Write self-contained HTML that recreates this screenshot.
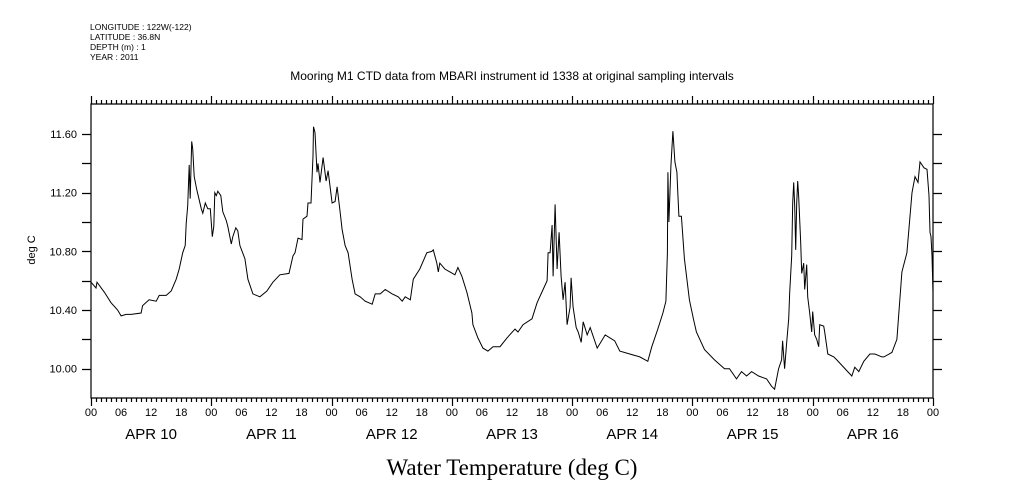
<!DOCTYPE html>
<html><head><meta charset="utf-8"><style>
body{margin:0;background:#fff;}
svg{display:block;font-family:"Liberation Sans",sans-serif;}
</style></head><body>
<svg id="chart" width="1009" height="504" viewBox="0 0 1009 504">
<g font-size="8.5" fill="#000">
<text x="90" y="30">LONGITUDE : 122W(-122)</text>
<text x="90" y="40">LATITUDE : 36.8N</text>
<text x="90" y="50">DEPTH (m) : 1</text>
<text x="90" y="60">YEAR : 2011</text>
</g>
<text x="512" y="80" font-size="12" text-anchor="middle">Mooring M1 CTD data from MBARI instrument id 1338 at original sampling intervals</text>
<text x="0" y="0" font-size="11" text-anchor="middle" transform="translate(35,250) rotate(-90)">deg C</text>
<text x="512" y="475" font-size="23" font-family="Liberation Serif, serif" text-anchor="middle">Water Temperature (deg C)</text>
<g id="axes"></g>
<g id="series"></g>
</svg>
<script>
const hours=[0,1,1.2,2.7,4,5.3,6,7,8,10,10.3,11.6,13,13.6,15,16,17,17.6,18.3,18.8,19,19.3,19.6,19.8,20.1,20.3,20.6,21.1,22,22.3,22.8,23.3,23.8,24.2,24.5,24.7,25,25.3,25.9,26.3,27,27.3,28,28.3,28.9,29.3,
29.7,30.7,31.3,32.3,33.7,35.1,36.3,37.7,39.5,40.3,40.7,41.3,42.1,42.3,43.1,43.3,43.9,44.3,44.4,44.7,45.1,45.3,45.7,46.1,46.3,46.9,47.3,48.1,48.7,49.1,49.7,50.1,50.7,51.3,52.1,52.7,53.7,54.7,56.1,56.7,57.7,58.7,60.1,61.3,62.1,62.7,63.7,64.3,65.6,67,68,68.3,69,69.3,
69.6,70.6,71.6,72.6,73.2,74,75,76,76.2,77.2,78.2,79.2,80.2,81.6,83,84.6,85.2,86.2,88,89,90.2,91,91.2,91.6,92,92.2,92.6,93,93.4,93.8,94.2,94.6,95,95.6,95.8,96.2,96.8,97.2,97.8,98.2,99,99.6,101,102.6,104.5,105.5,107.5,109.5,111.1,111.9,113.1,114.1,114.7,115,115.1,115.3,115.7,116.1,116.5,116.9,117,117.3,
117.8,118.4,119.4,120.2,120.8,122.4,124.4,126.4,127.4,128.8,129.8,130.8,131.8,133.2,134.8,135.8,136.4,137.2,137.8,138,138.4,138.8,139.2,139.4,139.8,140,140.2,140.4,140.6,140.8,141,141.2,141.6,141.8,142.2,142.4,142.8,143,143.4,143.8,144,144.4,144.8,145.2,145.4,146.2,146.4,147,148.2,148.8,151.8,152.4,153.2,154.2,155.4,156.4,157.8,
158.2,159.8,160.8,161.8,162.8,163.8,164.4,165,165.4,166.2,166.8,167.2,167.4,167.6,167.8,168];
const temps=[10.59,10.55,10.59,10.52,10.45,10.40,10.36,10.37,10.37,10.38,10.43,10.47,10.46,10.50,10.50,10.53,10.61,10.68,10.79,10.84,10.99,11.11,11.39,11.16,11.55,11.50,11.31,11.22,11.09,11.06,11.13,11.09,11.09,10.90,10.97,11.20,11.18,11.21,11.18,11.07,11.01,10.97,10.85,10.90,10.96,10.94,
10.84,10.75,10.61,10.51,10.49,10.53,10.59,10.64,10.65,10.77,10.79,10.89,10.88,11.02,11.04,11.13,11.13,11.45,11.65,11.61,11.34,11.40,11.27,11.38,11.44,11.28,11.35,11.13,11.14,11.24,11.07,10.95,10.84,10.79,10.61,10.51,10.49,10.46,10.44,10.51,10.51,10.54,10.51,10.49,10.46,10.49,10.47,10.61,10.68,10.79,10.80,10.81,10.72,10.66,
10.72,10.68,10.66,10.64,10.69,10.63,10.52,10.38,10.30,10.21,10.14,10.12,10.15,10.15,10.21,10.27,10.25,10.30,10.34,10.45,10.54,10.60,10.79,10.79,10.98,10.63,11.12,10.68,10.93,10.63,10.47,10.59,10.30,10.42,10.62,10.42,10.28,10.25,10.18,10.32,10.23,10.28,10.14,10.23,10.19,10.12,10.10,10.08,10.05,10.15,10.27,10.38,10.46,10.79,11.34,11.00,11.38,11.62,11.41,11.34,11.26,11.04,
11.04,10.75,10.47,10.34,10.25,10.13,10.06,10.00,10.00,9.93,9.98,9.95,9.98,9.95,9.93,9.88,9.86,10.00,10.06,10.19,10.00,10.18,10.34,10.52,10.77,11.13,11.27,11.11,10.81,11.13,11.28,11.17,10.86,10.65,10.72,10.54,10.71,10.49,10.38,10.25,10.39,10.23,10.20,10.15,10.30,10.29,10.25,10.10,10.08,10.06,9.95,10.01,9.98,10.05,10.10,10.10,10.08,
10.08,10.11,10.20,10.66,10.79,11.20,11.31,11.27,11.41,11.37,11.36,11.18,10.93,10.90,10.77,10.52];
const yTicks=[10.00,10.40,10.80,11.20,11.60];
const dayLabels=["APR 10","APR 11","APR 12","APR 13","APR 14","APR 15","APR 16"];
const hourLabels=["00","06","12","18"];

const X0=91,X1=933,Y0=104,Y1=398,TMIN=0,TMAX=168,VMIN=9.8,VMAX=11.805;
const sx=h=>X0+(h-TMIN)/(TMAX-TMIN)*(X1-X0);
const sy=v=>Y1-(v-VMIN)/(VMAX-VMIN)*(Y1-Y0);
const NS="http://www.w3.org/2000/svg";
const axes=document.getElementById('axes');
function mk(tag,attrs,parent){const e=document.createElementNS(NS,tag);for(const k in attrs)e.setAttribute(k,attrs[k]);parent.appendChild(e);return e;}
let d=`M${X0},${Y0}H${X1}V${Y1}H${X0}Z`;
for(let h=0;h<=168;h++){const x=Math.round(sx(h))+0.5;const L=h%24===0?8:4;d+=`M${x},${Y0}v${-L}M${x},${Y1}v${L}`;}
for(let i=0;i<=8;i++){const v=10+i*0.2;const y=Math.round(sy(v))+0.5;d+=`M${X0},${y}h-9M${X1},${y}h9`;}
const frame=mk('path',{d:d,fill:'none',stroke:'#000','stroke-width':1.2},axes);


yTicks.forEach(v=>{const t=mk('text',{x:77,y:sy(v)+4,'font-size':11,'text-anchor':'end'},axes);t.textContent=v.toFixed(2);

});
for(let h=0;h<=168;h+=6){const t=mk('text',{x:sx(h),y:416,'font-size':11,'text-anchor':'middle'},axes);t.textContent=hourLabels[(h/6)%4];

}
dayLabels.forEach((s,i)=>{const t=mk('text',{x:sx(i*24+12),y:439,'font-size':15,'text-anchor':'middle'},axes);t.textContent=s;

});
const pts=hours.map((h,i)=>sx(h).toFixed(1)+','+sy(temps[i]).toFixed(1)).join(' ');
const line=mk('polyline',{points:pts,fill:'none',stroke:'#000','stroke-width':1},document.getElementById('series'));


</script>
</body></html>
